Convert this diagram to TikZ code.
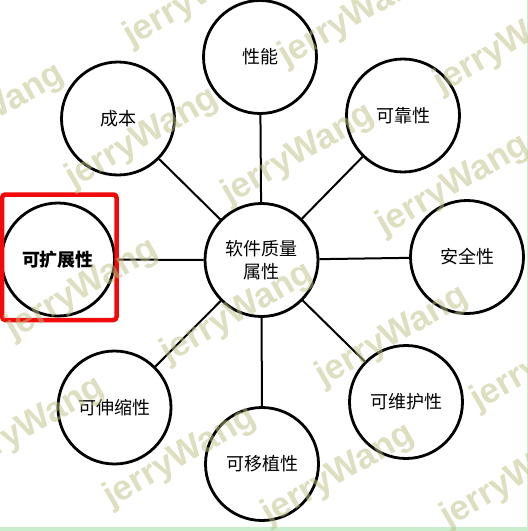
\documentclass[tikz,border=0pt]{standalone}
\usepackage{fontspec}
\newfontfamily\cjk{Noto Sans CJK SC}
\newfontfamily\wm{Liberation Sans}
\definecolor{wmcol}{RGB}{190,190,130}
\definecolor{boxred}{RGB}{240,10,10}
\definecolor{strip}{RGB}{200,238,205}
\begin{document}
\begin{tikzpicture}[x=1pt,y=-1pt,
  attr/.style={circle,draw=black,line width=2.8pt,minimum size=113pt,inner sep=0pt,
    font=\cjk\fontsize{18}{23.5}\selectfont,align=center},
  conn/.style={draw=black,line width=2pt},
  wmtext/.style={font=\wm\bfseries\fontsize{35}{35}\selectfont,text=wmcol,text opacity=0.5,
    rotate=30,anchor=base west,inner sep=0pt},
  hilite/.style={draw=boxred,line width=4.5pt,rounded corners=3pt}]
\useasboundingbox (0,0) rectangle (528,531);
\fill[white] (0,0) rectangle (528,531);
% green border strips
\fill[strip] (0,527) rectangle (528,531);
\draw[strip,line width=1pt] (527.5,0) -- (527.5,527);

% nodes
\node[attr] (c) at (261.5,260) {软件质量\\属性};
\node[attr] (perf) at (260,57) {性能};
\node[attr] (cost) at (118,118.5) {成本};
\node[attr] (rel) at (403,115.5) {可靠性};
\node[attr] (ext) at (58,259.5) {\bfseries 可扩展性};
\node[attr] (sec) at (467,257) {安全性};
\node[attr] (scal) at (114.5,407.5) {可伸缩性};
\node[attr] (maint) at (406,402) {可维护性};
\node[attr] (port) at (262,464) {可移植性};

% connectors
\draw[conn] (c) -- (perf);
\draw[conn] (c) -- (cost);
\draw[conn] (c) -- (rel);
\draw[conn] (c) -- (ext);
\draw[conn] (c) -- (sec);
\draw[conn] (c) -- (scal);
\draw[conn] (c) -- (maint);
\draw[conn] (c) -- (port);

% highlight box
\draw[hilite] (2.2,194.5) rectangle (116.5,320);

% watermarks
\node[wmtext] (w1) at (131,47) {jerryWang};
\node[wmtext] (w2) at (286,67) {jerryWang};
\node[wmtext] (w3) at (441,94) {jerryWang};
\node[wmtext] (w4) at (-81,165) {jerryWang};
\node[wmtext] (w5) at (73,189) {jerryWang};
\node[wmtext] (w6) at (229,205) {jerryWang};
\node[wmtext] (w7) at (384,236) {jerryWang};
\node[wmtext] (w8) at (13,340) {jerryWang};
\node[wmtext] (w9) at (168,364) {jerryWang};
\node[wmtext] (w10) at (323,387) {jerryWang};
\node[wmtext] (w11) at (478,411) {jerryWang};
\node[wmtext] (w12) at (-41,478) {jerryWang};
\node[wmtext] (w13) at (111,508) {jerryWang};
\node[wmtext] (w14) at (269,525) {jerryWang};
\node[wmtext] (w15) at (448,528) {jerryWang};
\end{tikzpicture}
\end{document}
